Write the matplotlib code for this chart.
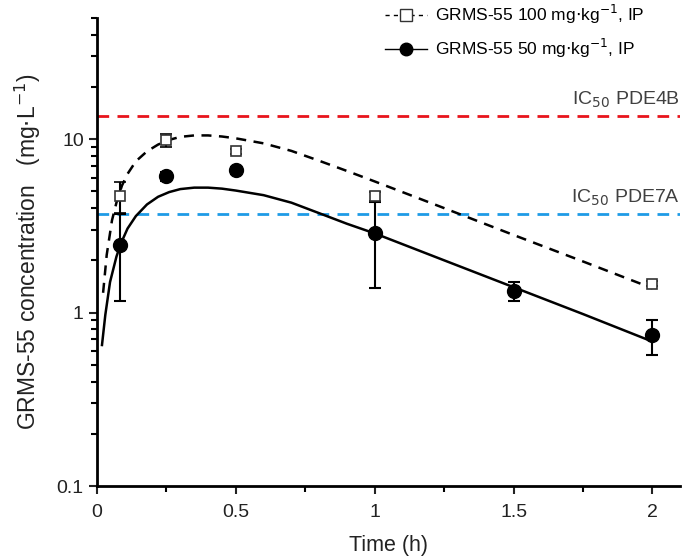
import matplotlib
matplotlib.use("Agg")
import matplotlib.pyplot as plt
from matplotlib.lines import Line2D

plt.rcParams['font.family'] = ['Liberation Sans', 'DejaVu Sans']

# observed data (mean, SD)
t_obs_100 = [0.083, 0.25, 0.5, 1.0, 2.0]
c_obs_100 = [4.7, 9.9, 8.5, 4.68, 1.47]
sd_obs_100 = [0.93, 0.85, 0.3, 0.3, 0.05]

t_obs_50 = [0.083, 0.25, 0.5, 1.0, 1.5, 2.0]
c_obs_50 = [2.44, 6.1, 6.62, 2.86, 1.34, 0.74]
sd_obs_50 = [1.27, 0.4, 0.3, 1.48, 0.17, 0.17]

# fitted model curves
t_fit_100 = [0.022, 0.035, 0.054, 0.07, 0.09, 0.11, 0.14, 0.18, 0.22, 0.26, 0.3,
             0.35, 0.4, 0.45, 0.5, 0.6, 0.7, 0.8, 0.9, 1.0, 1.25, 1.5, 1.75, 2.0]
c_fit_100 = [1.3, 2.15, 3.4, 4.3, 5.4, 6.3, 7.45, 8.5, 9.3, 9.9, 10.3,
             10.5, 10.5, 10.35, 10.1, 9.45, 8.55, 7.5, 6.55, 5.7, 4.0, 2.8, 1.97, 1.38]

t_fit_50 = [0.018, 0.03, 0.047, 0.07, 0.086, 0.11, 0.14, 0.18, 0.22, 0.26, 0.3,
            0.35, 0.4, 0.45, 0.5, 0.6, 0.7, 0.8, 0.9, 1.0, 1.25, 1.5, 1.75, 2.0]
c_fit_50 = [0.65, 0.97, 1.5, 2.1, 2.5, 3.05, 3.6, 4.2, 4.65, 4.95, 5.15,
            5.25, 5.25, 5.18, 5.05, 4.75, 4.3, 3.74, 3.25, 2.86, 2.0, 1.4, 0.98, 0.68]

ic50_pde4b = 13.6
ic50_pde7a = 3.69

fig = plt.figure(figsize=(6.83, 5.58), dpi=100)
ax = fig.add_axes([0.142, 0.129, 0.854, 0.839])

ax.axhline(ic50_pde4b, color='#e8141c', lw=2, dashes=(4.2, 3), zorder=1)
ax.axhline(ic50_pde7a, color='#1e9be6', lw=2, dashes=(4.2, 3), zorder=1)
ax.text(2.1, ic50_pde4b * 1.08, r'IC$_{50}$ PDE4B', ha='right', va='bottom',
        fontsize=14, color='#404040')
ax.text(2.1, ic50_pde7a * 1.08, r'IC$_{50}$ PDE7A', ha='right', va='bottom',
        fontsize=14, color='#404040')

ax.plot(t_fit_100, c_fit_100, color='black', lw=1.8, dashes=(4, 3), zorder=2)
ax.plot(t_fit_50, c_fit_50, color='black', lw=1.8, zorder=2)

ax.errorbar(t_obs_50, c_obs_50, yerr=sd_obs_50, fmt='o', color='black',
            ms=10, capsize=4, elinewidth=1.5, capthick=1.5, zorder=3)
ax.errorbar(t_obs_100, c_obs_100, yerr=sd_obs_100, fmt='s', color='black',
            mfc='white', mec='#333333', ms=7, mew=1.2, capsize=4,
            elinewidth=1.5, capthick=1.5, zorder=4)

ax.set_yscale('log')
ax.set_ylim(0.1, 50)
ax.set_xlim(0, 2.1)
ax.set_xticks([0, 0.5, 1, 1.5, 2])
ax.set_xticklabels(['0', '0.5', '1', '1.5', '2'])
ax.set_xticks([0.25, 0.75, 1.25, 1.75], minor=True)
ax.set_yticks([0.1, 1, 10])
ax.set_yticklabels(['0.1', '1', '10'])

for s in ['top', 'right']:
    ax.spines[s].set_visible(False)
for s in ['left', 'bottom']:
    ax.spines[s].set_linewidth(2)
ax.tick_params(which='major', length=6, width=1.5, labelsize=14, direction='out',
               colors='#222222')
ax.tick_params(axis='x', which='major', pad=7)
ax.tick_params(which='minor', length=4, width=1.5, direction='out')

ax.set_xlabel('Time (h)', fontsize=15.5, labelpad=10, color='#222222')
ax.set_ylabel(r'GRMS-55 concentration   (mg$\cdot$L$^{-1}$)', fontsize=16.5,
              labelpad=10, color='#222222')

handles = [
    Line2D([], [], color='black', lw=1, dashes=(3, 3), marker='s', mfc='white',
           mec='#333333', ms=8),
    Line2D([], [], color='black', lw=1, marker='o', ms=9),
]
labels = [r'GRMS-55 100 mg$\cdot$kg$^{-1}$, IP', r'GRMS-55 50 mg$\cdot$kg$^{-1}$, IP']
fig.legend(handles, labels, loc='upper left', bbox_to_anchor=(0.541, 1.022),
           frameon=False, fontsize=12.5, handlelength=2.4, handletextpad=0.5,
           labelspacing=0.6)

fig.savefig('out.png', dpi=100)
